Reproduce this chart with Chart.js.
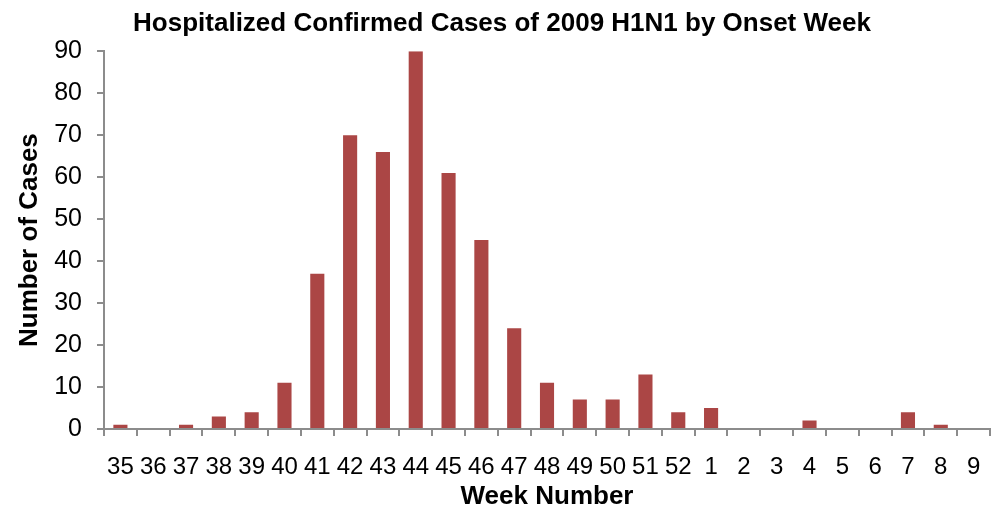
<!DOCTYPE html>
<html>
<head>
<meta charset="utf-8">
<script src="https://cdn.jsdelivr.net/npm/chart.js@4/dist/chart.umd.min.js"></script>
<style>
  html, body { margin: 0; padding: 0; background: #fff; }
  #wrap { width: 999px; height: 512px; }
</style>
</head>
<body>
<div id="wrap"><canvas id="chart"></canvas></div>
<script>
const weeks = ['35', '36', '37', '38', '39', '40', '41', '42', '43', '44', '45', '46', '47', '48',
               '49', '50', '51', '52', '1', '2', '3', '4', '5', '6', '7', '8', '9'];
const cases = [1, 0, 1, 3, 4, 11, 37, 70, 66, 90, 61, 45, 24, 11,
               7, 7, 13, 4, 5, 0, 0, 2, 0, 0, 4, 1, 0];

const font = 'Arial, "Liberation Sans", sans-serif';
const axisGrey = '#8c8c8c';

const ctx = document.getElementById('chart').getContext('2d');
new Chart(ctx, {
    type: 'bar',
    data: {
        labels: weeks,
        datasets: [{
            label: 'Cases',
            data: cases,
            backgroundColor: '#ab4645',
            borderWidth: 0,
            barPercentage: 0.43,
            categoryPercentage: 1
        }]
    },
    options: {
        responsive: true,
        maintainAspectRatio: false,
        animation: false,
        layout: { padding: { top: 8, right: 9, bottom: 0, left: 14 } },
        plugins: {
            legend: { display: false },
            tooltip: { enabled: false },
            title: {
                display: true,
                text: 'Hospitalized Confirmed Cases of 2009 H1N1 by Onset Week',
                color: '#000',
                font: { family: font, size: 26, weight: 'bold' },
                padding: { top: 0, bottom: 12 }
            }
        },
        scales: {
            x: {
                grid: {
                    offset: true,
                    drawOnChartArea: false,
                    drawTicks: true,
                    tickLength: 7,
                    color: axisGrey,
                    lineWidth: 2
                },
                border: { color: axisGrey, width: 2 },
                ticks: {
                    color: '#000',
                    font: { family: font, size: 24 },
                    autoSkip: false,
                    maxRotation: 0,
                    padding: 17
                },
                title: {
                    display: true,
                    text: 'Week Number',
                    color: '#000',
                    font: { family: font, size: 26, weight: 'bold' },
                    padding: { top: -18, bottom: 0 }
                }
            },
            y: {
                min: 0,
                max: 90,
                ticks: {
                    stepSize: 10,
                    color: '#000',
                    font: { family: font, size: 25 },
                    padding: 15
                },
                grid: {
                    drawOnChartArea: false,
                    drawTicks: true,
                    tickLength: 7,
                    color: axisGrey,
                    lineWidth: 2
                },
                border: { color: axisGrey, width: 2 },
                title: {
                    display: true,
                    text: 'Number of Cases',
                    color: '#000',
                    font: { family: font, size: 26, weight: 'bold' },
                    padding: { top: 0, bottom: -6 }
                }
            }
        }
    }
});
</script>
</body>
</html>
